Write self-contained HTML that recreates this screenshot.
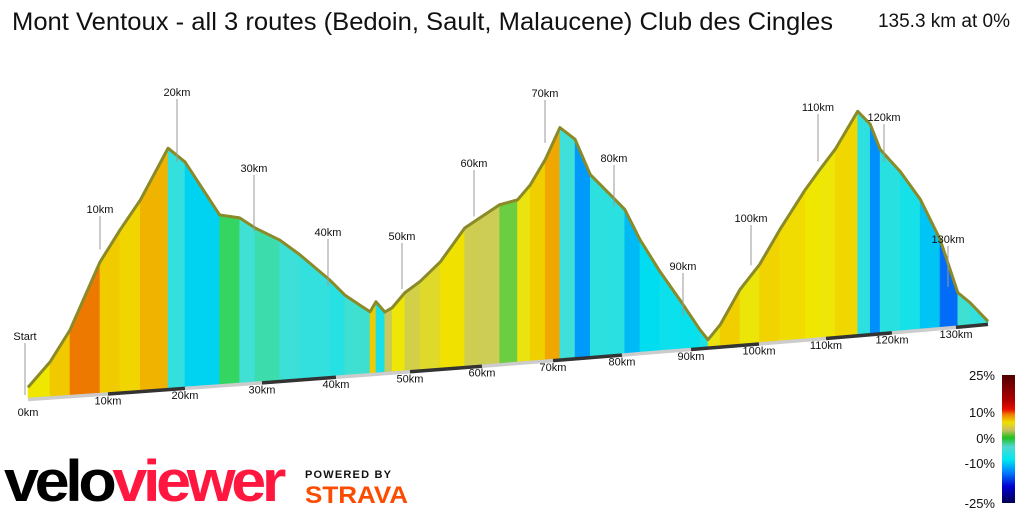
<!DOCTYPE html>
<html><head><meta charset="utf-8"><style>
body{margin:0;background:#fff;width:1024px;height:512px;overflow:hidden;font-family:"Liberation Sans",sans-serif}
svg{position:absolute;left:0;top:0}
</style></head><body>
<svg width="1024" height="512">
<text x="12" y="30" font-size="25" fill="#111" textLength="821" lengthAdjust="spacingAndGlyphs">Mont Ventoux - all 3 routes (Bedoin, Sault, Malaucene) Club des Cingles</text>
<text x="1010" y="27" font-size="19" fill="#111" text-anchor="end">135.3 km at 0%</text>
<g id="profile"></g>
<g id="axis"></g>
<g id="labels"></g>
<defs><linearGradient id="lg" x1="0" y1="0" x2="0" y2="1">
<stop offset="0" stop-color="#500000"/><stop offset="0.2" stop-color="#b00000"/><stop offset="0.27" stop-color="#e81000"/><stop offset="0.31" stop-color="#f08000"/><stop offset="0.37" stop-color="#f0e000"/><stop offset="0.43" stop-color="#c8c060"/><stop offset="0.49" stop-color="#20c020"/><stop offset="0.56" stop-color="#50d8d0"/><stop offset="0.66" stop-color="#00e8f0"/><stop offset="0.76" stop-color="#0080ff"/><stop offset="0.87" stop-color="#0000d0"/><stop offset="1" stop-color="#000050"/>
</linearGradient></defs>
<rect x="1002" y="375" width="13" height="128" fill="url(#lg)"/>
<g font-size="13" fill="#111" text-anchor="end">
<text x="995" y="380">25%</text><text x="995" y="417">10%</text><text x="995" y="443">0%</text><text x="995" y="468">-10%</text><text x="995" y="508">-25%</text></g>
<g font-weight="bold" font-size="58" letter-spacing="-4">
<text x="4" y="501" textLength="278" lengthAdjust="spacingAndGlyphs"><tspan fill="#000">velo</tspan><tspan fill="#ff1740">viewer</tspan></text></g>
<text x="305" y="478" font-size="11" font-weight="bold" letter-spacing="1.2" fill="#111">POWERED BY</text>
<text x="305" y="503" font-size="24" font-weight="bold" fill="#fc4c02" textLength="103" lengthAdjust="spacingAndGlyphs">STRAVA</text>
</svg>
<script>
const distKm=[0,2.75,5.25,9,11.56,14.2,17.8,20,24.5,27.1,29.1,32.4,35.1,39.2,41.2,43.2,44.6,45.4,46.6,47.6,49.3,51.4,54.2,57.6,59.7,62.5,65,66.8,68.9,71,73.2,75.4,78.3,80.4,82.6,85.5,88.4,91.3,92.5,94.3,97.2,100.1,103.1,106.9,109.1,111.4,114.8,116.7,118.2,121.3,124.4,127.5,130.3,132.3,135.3];
const elevM=[300,467,682,1145,1360,1560,1910,1805,1415,1384,1306,1208,1095,899,787,710,657,724,647,674,772,843,969,1194,1257,1339,1363,1461,1630,1847,1756,1500,1348,1236,1016,780,569,350,274,372,608,773,1005,1271,1405,1538,1791,1693,1510,1342,1137,843,457,380,236];
const tickKm=[0,10,20,30,40,50,60,70,80,90,100,110,120,130];
const markerKm=[10,20,30,40,50,60,70,80,90,100,110,120,130];
const markerLabelY=[211,94,170,234,238,165,95,160,268,220,109,119,241];
const NS='http://www.w3.org/2000/svg';
const axKm=[0,10,20,30,40,50,60,70,80,90,100,110,120,130,135.3];
const axX=[28,108,185,262,336,410,482,553,622,691,759,826,892,956,988];
function xOf(d){for(let i=0;i<axKm.length-1;i++){if(d<=axKm[i+1]||i==axKm.length-2){return axX[i]+(d-axKm[i])/(axKm[i+1]-axKm[i])*(axX[i+1]-axX[i]);}}}
function baseY(d){return 398-0.555*d;}
function hOf(e){return (e-225)*0.1424;}
function topY(i){return baseY(distKm[i])-hOf(elevM[i]);}
function elevAt(d){for(let i=0;i<distKm.length-1;i++){if(d<=distKm[i+1])return elevM[i]+(d-distKm[i])/(distKm[i+1]-distKm[i])*(elevM[i+1]-elevM[i]);}return elevM[elevM.length-1];}
const gs=[-25,-18,-13,-8,-4,0,2.5,6,9,12,16,25];
const gc=[[0,0,80],[0,0,208],[0,128,255],[0,224,240],[64,224,216],[48,208,48],[200,200,96],[240,232,0],[240,196,0],[240,130,0],[216,24,0],[80,0,0]];
function col(g){g=Math.max(-25,Math.min(25,g));for(let i=0;i<gs.length-1;i++){if(g<=gs[i+1]){const t=(g-gs[i])/(gs[i+1]-gs[i]);const c=gc[i].map((v,k)=>Math.round(v+t*(gc[i+1][k]-v)));return 'rgb('+c.join(',')+')';}}}
const prof=document.getElementById('profile');
for(let i=0;i<distKm.length-1;i++){
 const g=(elevM[i+1]-elevM[i])/((distKm[i+1]-distKm[i])*10);
 const p=document.createElementNS(NS,'polygon');
 const x0=xOf(distKm[i]),x1=xOf(distKm[i+1]);
 p.setAttribute('points',`${x0},${baseY(distKm[i])} ${x0},${topY(i)} ${x1},${topY(i+1)} ${x1},${baseY(distKm[i+1])}`);
 p.setAttribute('fill',col(g));p.setAttribute('stroke',col(g));p.setAttribute('stroke-width','0.6');
 
 
 prof.appendChild(p);
}
const ridge=document.createElementNS(NS,'polyline');
ridge.setAttribute('points',distKm.map((d,i)=>xOf(d)+','+topY(i)).join(' '));
ridge.setAttribute('fill','none');ridge.setAttribute('stroke','#8a8a28');ridge.setAttribute('stroke-width','3');ridge.setAttribute('stroke-linejoin','round');


prof.appendChild(ridge);
const ax=document.getElementById('axis');
const segEnds=[0,10,20,30,40,50,60,70,80,90,100,110,120,130,135.3];
for(let i=0;i<segEnds.length-1;i++){
 const l=document.createElementNS(NS,'line');
 l.setAttribute('x1',xOf(segEnds[i]));l.setAttribute('y1',baseY(segEnds[i])+1.5);
 l.setAttribute('x2',xOf(segEnds[i+1]));l.setAttribute('y2',baseY(segEnds[i+1])+1.5);
 l.setAttribute('stroke',i%2?'#333':'#ccc');l.setAttribute('stroke-width','3.5');
 
 
 ax.appendChild(l);
}
tickKm.forEach(k=>{
 const t=document.createElementNS(NS,'text');
 t.setAttribute('x',xOf(k));t.setAttribute('y',baseY(k)+(k==0?18:12));
 t.setAttribute('font-size','11');t.setAttribute('text-anchor','middle');t.setAttribute('fill','#111');
 t.textContent=k+'km';
 
 
 ax.appendChild(t);
});
const lab=document.getElementById('labels');
function addMarker(x,y0,y1,txt){
 const l=document.createElementNS(NS,'line');
 l.setAttribute('x1',x);l.setAttribute('y1',y0);l.setAttribute('x2',x);l.setAttribute('y2',y1);
 l.setAttribute('stroke','#999');l.setAttribute('stroke-width','1');
 
 
 lab.appendChild(l);
 const t=document.createElementNS(NS,'text');
 t.setAttribute('x',x);t.setAttribute('y',y1-3);t.setAttribute('font-size','11');t.setAttribute('text-anchor','middle');t.setAttribute('fill','#111');
 t.textContent=txt;
 
 
 lab.appendChild(t);
}
markerKm.forEach((k,i)=>{const x=xOf(k)-8;addMarker(x,baseY(k)-hOf(elevAt(k)),markerLabelY[i]+5,k+'km');});
addMarker(25,baseY(0)-3,343,'Start');
</script>
</body></html>
